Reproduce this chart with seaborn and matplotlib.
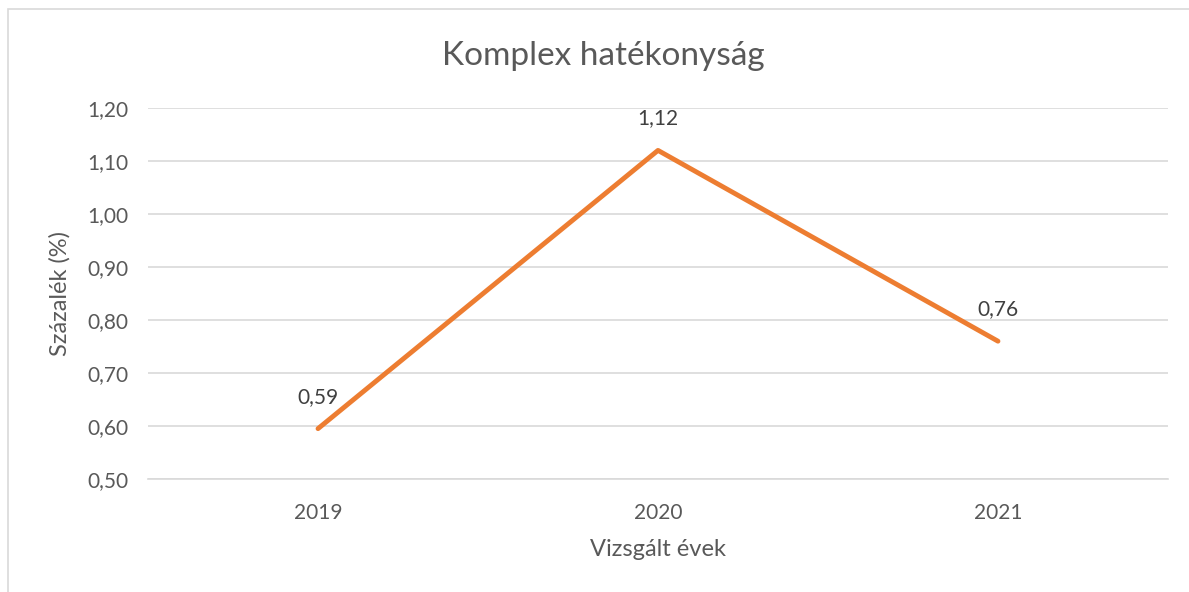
import matplotlib
matplotlib.use('Agg')
import matplotlib.pyplot as plt
import matplotlib.patches as mpatches
import seaborn as sns
import pandas as pd

# Adatok
years = ["2019", "2020", "2021"]
values = [0.595, 1.12, 0.76]
labels = ["0,59", "1,12", "0,76"]
y_ticks = [0.50, 0.60, 0.70, 0.80, 0.90, 1.00, 1.10, 1.20]

df = pd.DataFrame({"year": years, "value": values})

sns.set_style("white")
plt.rcParams['font.family'] = ['Lato', 'DejaVu Sans']

text_col = "#595959"
grid_col = "#d9d9d9"

fig = plt.figure(figsize=(11.89, 5.92), dpi=100)
ax = fig.add_axes([0.1245, 0.1909, 0.8578, 0.6267])

sns.lineplot(data=df, x="year", y="value", color="#ED7D31", linewidth=3.5,
             solid_capstyle="round", ax=ax, sort=False)

ax.set_xlim(-0.5, len(years) - 0.5)
ax.set_ylim(0.5, 1.2)
ax.set_yticks(y_ticks)
ax.set_yticklabels([f"{t:.2f}".replace(".", ",") for t in y_ticks])
ax.yaxis.grid(True, color=grid_col, linewidth=1.2)
ax.set_axisbelow(True)
for s in ["top", "right", "left"]:
    ax.spines[s].set_visible(False)
ax.spines["bottom"].set_color(grid_col)
ax.spines["bottom"].set_linewidth(1.2)
ax.tick_params(axis="y", length=0, labelsize=15, colors=text_col, pad=14)
ax.tick_params(axis="x", length=0, labelsize=15, colors=text_col, pad=17)

for i, (v, lab) in enumerate(zip(values, labels)):
    ax.annotate(lab, (i, v), xytext=(0, 23), textcoords="offset points",
                ha="center", va="center", fontsize=15, color="#404040")

ax.set_xlabel("Vizsgált évek", fontsize=17, color=text_col, labelpad=12)
ax.set_ylabel("Százalék (%)", fontsize=17, color=text_col, labelpad=12)
fig.text(0.507, 0.905, "Komplex hatékonyság", ha="center", va="center",
         fontsize=24, color=text_col)

# keret
fig.patches.append(mpatches.Rectangle((8 / 1189, -0.01), 1.0, 1 - 9 / 592 + 0.01,
                                      transform=fig.transFigure, fill=False,
                                      edgecolor="#d9d9d9", linewidth=1.2))

fig.savefig("out.png", dpi=100)
